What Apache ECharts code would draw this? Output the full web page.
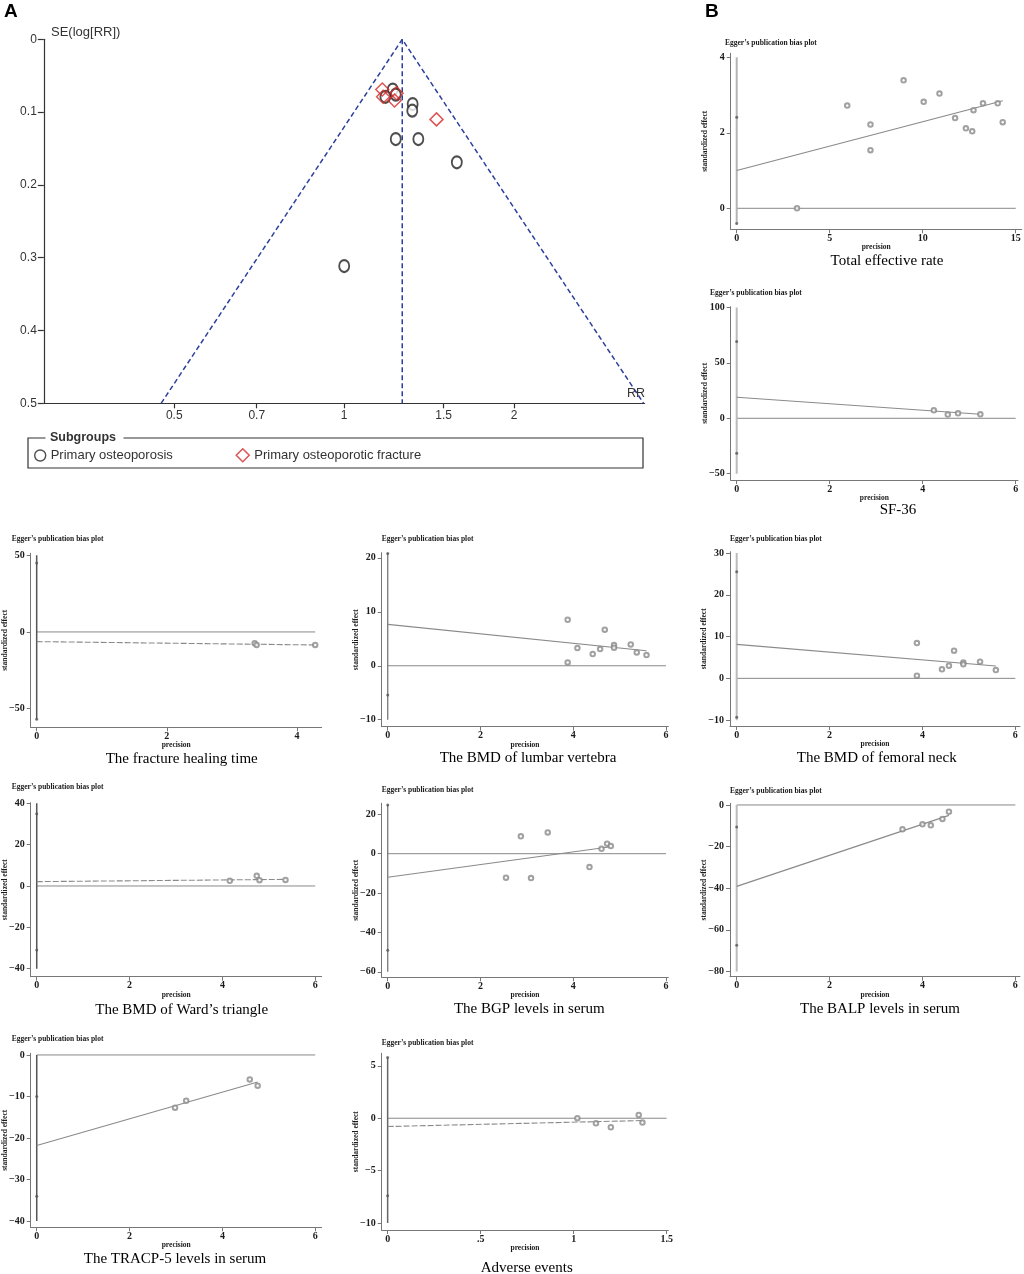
<!DOCTYPE html>
<html><head><meta charset="utf-8">
<script src="https://cdn.jsdelivr.net/npm/echarts@6/dist/echarts.min.js"></script>
<style>html,body{margin:0;padding:0;background:#fff}#c{width:1024px;height:1274px}</style>
</head><body><div id="c"></div>
<script>
// ================= DATA =================
// Panel A: funnel plot
const osteoporosisRR = [1.219, 1.234, 1.183, 1.322, 1.320, 1.234, 1.353, 1.583, 1.000];
const osteoporosisSE = [0.069, 0.076, 0.079, 0.089, 0.098, 0.137, 0.137, 0.169, 0.3115];
const fractureRR = [1.168, 1.172, 1.228, 1.238, 1.457];
const fractureSE = [0.069, 0.079, 0.084, 0.074, 0.110];
const pooledRR = 1.267;
const funnelBaseRR = [0.474, 3.39];
const funnelMaxSE = 0.5;
const funnelXTicks = [0.5, 0.7, 1, 1.5, 2];
const funnelYTicks = [0, 0.1, 0.2, 0.3, 0.4, 0.5];

// Panel B: Egger plots
const totalPrecision = [3.24, 5.94, 7.19, 7.19, 8.97, 10.05, 10.90, 11.74, 12.32, 12.66, 12.73, 13.24, 14.03, 14.30];
const totalEffect    = [0.00, 2.72, 2.22, 1.54, 3.39, 2.82, 3.04, 2.39, 2.12, 2.04, 2.60, 2.78, 2.78, 2.28];
const totalFitX = [0, 14.3], totalFitY = [1.0, 2.85];
const totalCI = [-0.40, 2.41], totalRefLine = [-0.4, 4], totalZeroEnd = 15;
const totalXTicks = [0, 5, 10, 15], totalYTicks = [0, 2, 4];

const sf36Precision = [4.24, 4.54, 4.76, 5.24];
const sf36Effect    = [7.2, 3.3, 4.5, 3.6];
const sf36FitX = [0, 5.24], sf36FitY = [19.0, 3.6];
const sf36CI = [-31.6, 69.3], sf36RefLine = [-50, 100], sf36ZeroEnd = 6;
const sf36XTicks = [0, 2, 4, 6], sf36YTicks = [-50, 0, 50, 100];

const healingPrecision = [3.35, 3.38, 4.28];
const healingEffect    = [-7.4, -8.5, -8.5];
const healingFitX = [0, 4.28], healingFitY = [-6.3, -8.5];
const healingCI = [-57, 45], healingRefLine = [-57, 50], healingZeroEnd = 4.28;
const healingXTicks = [0, 2, 4], healingYTicks = [-50, 0, 50];

const lumbarPrecision = [3.88, 3.88, 4.09, 4.42, 4.58, 4.68, 4.88, 4.88, 5.24, 5.37, 5.58];
const lumbarEffect    = [8.53, 0.62, 3.28, 2.16, 3.09, 6.68, 3.83, 3.34, 3.96, 2.47, 1.98];
const lumbarFitX = [0, 5.58], lumbarFitY = [7.67, 2.78];
const lumbarCI = [-5.4, 20.8], lumbarRefLine = [-10, 20.9], lumbarZeroEnd = 6;
const lumbarXTicks = [0, 2, 4, 6], lumbarYTicks = [-10, 0, 10, 20];

const femoralPrecision = [3.88, 3.88, 4.42, 4.57, 4.68, 4.88, 4.88, 5.24, 5.58];
const femoralEffect    = [8.45, 0.64, 2.15, 3.03, 6.61, 3.82, 3.35, 3.98, 1.99];
const femoralFitX = [0, 5.58], femoralFitY = [8.13, 2.95];
const femoralCI = [-9.3, 25.5], femoralRefLine = [-10, 30], femoralZeroEnd = 6;
const femoralXTicks = [0, 2, 4, 6], femoralYTicks = [-10, 0, 10, 20, 30];

const wardPrecision = [4.16, 4.74, 4.80, 5.36];
const wardEffect    = [2.5, 4.9, 2.8, 2.9];
const wardFitX = [0, 5.36], wardFitY = [2.1, 3.2];
const wardCI = [-31, 35], wardRefLine = [-40, 40], wardZeroEnd = 6;
const wardXTicks = [0, 2, 4, 6], wardYTicks = [-40, -20, 0, 20, 40];

const bgpPrecision = [2.55, 2.87, 3.09, 3.45, 4.35, 4.61, 4.73, 4.81];
const bgpEffect    = [-12.2, 8.8, -12.4, 10.8, -6.8, 2.5, 5.1, 3.9];
const bgpFitX = [0, 4.81], bgpFitY = [-12.0, 3.56];
const bgpCI = [-49, 24.7], bgpRefLine = [-60, 25], bgpZeroEnd = 6;
const bgpXTicks = [0, 2, 4, 6], bgpYTicks = [-60, -40, -20, 0, 20];

const balpPrecision = [3.57, 4.00, 4.18, 4.43, 4.57];
const balpEffect    = [-11.7, -9.3, -9.8, -6.7, -3.2];
const balpFitX = [0, 4.57], balpFitY = [-39.1, -5.0];
const balpCI = [-67.4, -10.6], balpRefLine = [-80, 0], balpZeroEnd = 6;
const balpXTicks = [0, 2, 4, 6], balpYTicks = [-80, -60, -40, -20, 0];

const tracpPrecision = [2.98, 3.22, 4.59, 4.76];
const tracpEffect    = [-12.7, -11.0, -5.9, -7.4];
const tracpFitX = [0, 4.76], tracpFitY = [-21.8, -6.5];
const tracpCI = [-34, -10], tracpRefLine = [-40, 0], tracpZeroEnd = 6;
const tracpXTicks = [0, 2, 4, 6], tracpYTicks = [-40, -30, -20, -10, 0];

const adversePrecision = [1.02, 1.12, 1.20, 1.35, 1.37];
const adverseEffect    = [0.00, -0.48, -0.86, 0.32, -0.41];
const adverseFitX = [0, 1.37], adverseFitY = [-0.79, -0.22];
const adverseCI = [-7.4, 5.8], adverseRefLine = [-10, 5.8], adverseZeroEnd = 1.5;
const adverseXTicks = [0, 0.5, 1, 1.5], adverseYTicks = [-10, -5, 0, 5];

// ================= FONTS =================
function hasFont(name){
  const c = document.createElement('canvas').getContext('2d');
  const s = 'abcdefghijklmnopqrstuvwxyz0123456789ABCDEF';
  c.font = '20px monospace'; const w0 = c.measureText(s).width;
  c.font = "20px '" + name + "', monospace"; const w1 = c.measureText(s).width;
  return Math.abs(w0 - w1) > 0.5;
}
const NARROW = hasFont('Liberation Sans Narrow');
const FF = NARROW ? "'Liberation Sans Narrow', 'Liberation Sans', sans-serif" : "'Liberation Sans', Arial, sans-serif";
const FZ = NARROW ? {tick:14, legend:15.5, sub:15.5, se:15.5, rr:15} : {tick:12, legend:13, sub:12.5, se:13, rr:12.5};
const SERIF = "'Liberation Serif', 'DejaVu Serif', serif";

// ================= PANELS =================
const panels = [
  {subtitle:'Total effective rate', prec:totalPrecision, eff:totalEffect, fitX:totalFitX, fitY:totalFitY, ci:totalCI, ref:totalRefLine, zeroEnd:totalZeroEnd, xTicks:totalXTicks, yTicks:totalYTicks, dashed:false,
   L:{left:730.7, top:53.3, width:291, height:176, xMin:-0.323, xMax:15.32, yMin:-0.556, yMax:4.106, title:[725,43], sub:[887,261], refColor:'#b4b4b4', refW:2}},
  {subtitle:'SF-36', prec:sf36Precision, eff:sf36Effect, fitX:sf36FitX, fitY:sf36FitY, ci:sf36CI, ref:sf36RefLine, zeroEnd:sf36ZeroEnd, xTicks:sf36XTicks, yTicks:sf36YTicks, dashed:false,
   L:{left:730.7, top:306.7, width:287.3, height:173.3, xMin:-0.129, xMax:6.05, yMin:-55.7, yMax:100.7, title:[710,293.3], sub:[898,510], refColor:'#bbbbbb', refW:2}},
  {subtitle:'The fracture healing time', prec:healingPrecision, eff:healingEffect, fitX:healingFitX, fitY:healingFitY, ci:healingCI, ref:healingRefLine, zeroEnd:healingZeroEnd, xTicks:healingXTicks, yTicks:healingYTicks, dashed:true,
   L:{left:30.7, top:553.3, width:291, height:174, xMin:-0.092, xMax:4.38, yMin:-62.2, yMax:51.3, title:[11.7,539.3], sub:[181.7,759], refColor:'#555555', refW:1.5}},
  {subtitle:'The BMD of lumbar vertebra', prec:lumbarPrecision, eff:lumbarEffect, fitX:lumbarFitX, fitY:lumbarFitY, ci:lumbarCI, ref:lumbarRefLine, zeroEnd:lumbarZeroEnd, xTicks:lumbarXTicks, yTicks:lumbarYTicks, dashed:false,
   L:{left:381.7, top:552.7, width:286.6, height:174, xMin:-0.13, xMax:6.05, yMin:-11.3, yMax:20.96, title:[381.7,539.3], sub:[528,758], refColor:'#777777', refW:1.3}},
  {subtitle:'The BMD of femoral neck', prec:femoralPrecision, eff:femoralEffect, fitX:femoralFitX, fitY:femoralFitY, ci:femoralCI, ref:femoralRefLine, zeroEnd:femoralZeroEnd, xTicks:femoralXTicks, yTicks:femoralYTicks, dashed:false,
   L:{left:730, top:551.7, width:290, height:174.3, xMin:-0.144, xMax:6.1, yMin:-11.4, yMax:30.3, title:[730,539.3], sub:[876.7,758.3], refColor:'#bbbbbb', refW:2}},
  {subtitle:'The BMD of Ward\u2019s triangle', prec:wardPrecision, eff:wardEffect, fitX:wardFitX, fitY:wardFitY, ci:wardCI, ref:wardRefLine, zeroEnd:wardZeroEnd, xTicks:wardXTicks, yTicks:wardYTicks, dashed:true,
   L:{left:30.7, top:802.7, width:291, height:174, xMin:-0.13, xMax:6.14, yMin:-43.9, yMax:40.3, title:[11.7,786.7], sub:[181.7,1010], refColor:'#555555', refW:1.5}},
  {subtitle:'The BGP levels in serum', prec:bgpPrecision, eff:bgpEffect, fitX:bgpFitX, fitY:bgpFitY, ci:bgpCI, ref:bgpRefLine, zeroEnd:bgpZeroEnd, xTicks:bgpXTicks, yTicks:bgpYTicks, dashed:false,
   L:{left:381.7, top:803.3, width:286.6, height:174, xMin:-0.13, xMax:6.05, yMin:-62.8, yMax:25.6, title:[381.7,790], sub:[529.3,1009.3], refColor:'#777777', refW:1.3}},
  {subtitle:'The BALP levels in serum', prec:balpPrecision, eff:balpEffect, fitX:balpFitX, fitY:balpFitY, ci:balpCI, ref:balpRefLine, zeroEnd:balpZeroEnd, xTicks:balpXTicks, yTicks:balpYTicks, dashed:false,
   L:{left:730, top:803.3, width:290, height:173.4, xMin:-0.144, xMax:6.1, yMin:-82.5, yMax:0.8, title:[730,790.7], sub:[880,1009.3], refColor:'#bbbbbb', refW:2}},
  {subtitle:'The TRACP-5 levels in serum', prec:tracpPrecision, eff:tracpEffect, fitX:tracpFitX, fitY:tracpFitY, ci:tracpCI, ref:tracpRefLine, zeroEnd:tracpZeroEnd, xTicks:tracpXTicks, yTicks:tracpYTicks, dashed:false,
   L:{left:30.7, top:1053.3, width:291, height:174, xMin:-0.13, xMax:6.14, yMin:-41.5, yMax:0.4, title:[11.7,1039.3], sub:[175,1259.3], refColor:'#555555', refW:1.5}},
  {subtitle:'Adverse events', prec:adversePrecision, eff:adverseEffect, fitX:adverseFitX, fitY:adverseFitY, ci:adverseCI, ref:adverseRefLine, zeroEnd:adverseZeroEnd, xTicks:adverseXTicks, yTicks:adverseYTicks, dashed:true,
   L:{left:381.7, top:1053.3, width:286.6, height:176.7, xMin:-0.032, xMax:1.509, yMin:-10.67, yMax:6.2, title:[381.7,1043.3], sub:[526.7,1268], refColor:'#666666', refW:1.5}}
];

function stataNum(v){
  const a = Math.abs(v);
  let s = String(+a.toFixed(3));
  if (a > 0 && a < 1) s = s.replace(/^0/, '');
  return (v < 0 ? '\u2212' : '') + s;
}
function txt(text, x, y, font, align, fill, rot){
  return {type:'text', x:x, y:y, rotation:rot || 0, silent:true, z:100,
    style:{text:text, font:font, fill:fill || '#111', align:align || 'left', verticalAlign:'middle', textAlign:align || 'left', textVerticalAlign:'middle'}};
}

const grids = [], xAxes = [], yAxes = [], series = [], graphics = [];

// ---------- Funnel plot (panel A) ----------
grids.push({left:43.8, top:39.3, width:600.8, height:364, containLabel:false, outerBoundsMode:'none'});
const lnTicks = funnelXTicks.map(Math.log);
xAxes.push({type:'value', gridIndex:0, min:-1.225, max:1.225,
  axisLine:{show:true, onZero:false, lineStyle:{color:'#333', width:1.2}},
  axisTick:{show:true, customValues:lnTicks, length:5, lineStyle:{color:'#333', width:1.2}},
  axisLabel:{show:true, customValues:lnTicks, formatter:v => String(+Math.exp(v).toFixed(2)), margin:6, color:'#333', fontFamily:FF, fontSize:FZ.tick},
  splitLine:{show:false}});
yAxes.push({type:'value', gridIndex:0, inverse:true, min:0, max:funnelMaxSE,
  axisLine:{show:true, onZero:false, lineStyle:{color:'#333', width:1.2}},
  axisTick:{show:true, customValues:funnelYTicks, length:6, lineStyle:{color:'#333', width:1.2}},
  axisLabel:{show:true, customValues:funnelYTicks, formatter:v => v === 0 ? '0' : v.toFixed(1), margin:7, color:'#333', fontFamily:FF, fontSize:FZ.tick},
  splitLine:{show:false}});
const lnP = Math.log(pooledRR);
series.push({type:'line', xAxisIndex:0, yAxisIndex:0, silent:true, symbol:'none', z:2,
  data:[[Math.log(funnelBaseRR[0]), funnelMaxSE], [lnP, 0], [Math.log(funnelBaseRR[1]), funnelMaxSE]],
  lineStyle:{color:'#2b3f9e', width:1.5, type:[5,3]}});
series.push({type:'line', xAxisIndex:0, yAxisIndex:0, silent:true, symbol:'none', z:2,
  data:[[lnP, 0], [lnP, funnelMaxSE]],
  lineStyle:{color:'#2b3f9e', width:1.5, type:[5,3]}});
series.push({type:'scatter', name:'Primary osteoporosis', xAxisIndex:0, yAxisIndex:0, z:5,
  data:osteoporosisRR.map((r, j) => [Math.log(r), osteoporosisSE[j]]),
  symbol:'emptyCircle', symbolSize:[10,12], itemStyle:{color:'#222', borderColor:'#222', borderWidth:1.4}});
series.push({type:'scatter', name:'Primary osteoporotic fracture', xAxisIndex:0, yAxisIndex:0, z:6,
  data:fractureRR.map((r, j) => [Math.log(r), fractureSE[j]]),
  symbol:'diamond', symbolSize:13, itemStyle:{color:'rgba(255,255,255,0)', borderColor:'#d42a2a', borderWidth:1.5}});

graphics.push(txt('A', 4, 12, "bold 19px 'Liberation Sans', Arial, sans-serif", 'left', '#000'));
graphics.push(txt('B', 705, 12, "bold 19px 'Liberation Sans', Arial, sans-serif", 'left', '#000'));
graphics.push(txt('SE(log[RR])', 51, 32, FZ.se + 'px ' + FF, 'left', '#333'));
graphics.push(txt('RR', 645, 394, FZ.rr + 'px ' + FF, 'right', '#333'));
graphics.push({type:'polyline', silent:true, z:50,
  shape:{points:[[45.5,438],[28,438],[28,468],[643,468],[643,438],[123.5,438]]},
  style:{stroke:'#333', lineWidth:1.2, fill:null}});
graphics.push(txt('Subgroups', 50, 438, 'bold ' + FZ.sub + 'px ' + FF, 'left', '#333'));

// ---------- Egger plots (panel B) ----------
const AX = '#777';
const tickFont = {fontFamily:SERIF, fontSize:10, fontWeight:'bold', color:'#1a1a1a'};
const smallFont = {fontFamily:SERIF, fontSize:7.5, fontWeight:'bold', color:'#1a1a1a'};
panels.forEach((p, k) => {
  const i = k + 1, L = p.L;
  grids.push({left:L.left, top:L.top, width:L.width, height:L.height, containLabel:false, outerBoundsMode:'none'});
  xAxes.push({type:'value', gridIndex:i, min:L.xMin, max:L.xMax,
    name:'precision', nameLocation:'middle', nameGap:14, nameMoveOverlap:false, nameTextStyle:smallFont,
    axisLine:{show:true, onZero:false, lineStyle:{color:AX, width:1}},
    axisTick:{show:true, customValues:p.xTicks, length:4, lineStyle:{color:AX, width:1}},
    axisLabel:Object.assign({show:true, customValues:p.xTicks, formatter:stataNum, margin:4}, tickFont),
    splitLine:{show:false}});
  yAxes.push({type:'value', gridIndex:i, min:L.yMin, max:L.yMax,
    name:'standardized effect', nameLocation:'middle', nameRotate:90, nameGap:21.5, nameMoveOverlap:false, nameTextStyle:smallFont,
    axisLine:{show:true, onZero:false, lineStyle:{color:AX, width:1}},
    axisTick:{show:true, customValues:p.yTicks, length:4, lineStyle:{color:AX, width:1}},
    axisLabel:Object.assign({show:true, customValues:p.yTicks, formatter:stataNum, margin:6}, tickFont),
    splitLine:{show:false}});
  const ax = {xAxisIndex:i, yAxisIndex:i, silent:true};
  series.push(Object.assign({type:'line', symbol:'none', z:1, data:[[0,0],[p.zeroEnd,0]],
    lineStyle:{color:'#888', width:1}}, ax));
  series.push(Object.assign({type:'line', symbol:'none', z:2, data:[[0,p.ref[0]],[0,p.ref[1]]],
    lineStyle:{color:L.refColor, width:L.refW}}, ax));
  series.push(Object.assign({type:'scatter', z:3, data:[[0,p.ci[0]],[0,p.ci[1]]],
    symbol:'circle', symbolSize:3, itemStyle:{color:'#555'}}, ax));
  series.push(Object.assign({type:'line', symbol:'none', z:3, data:[[p.fitX[0],p.fitY[0]],[p.fitX[1],p.fitY[1]]],
    lineStyle:{color:'#8a8a8a', width:1.1, type:p.dashed ? [6,2] : 'solid'}}, ax));
  series.push(Object.assign({type:'scatter', z:4, data:p.prec.map((x, j) => [x, p.eff[j]]),
    symbol:'emptyCircle', symbolSize:4.5, itemStyle:{color:'#8a8a8a', borderColor:'#8a8a8a', borderWidth:1}}, ax));
  graphics.push(txt('Egger\u2019s publication bias plot', L.title[0], L.title[1], 'bold 7.5px ' + SERIF, 'left', '#1a1a1a'));
  graphics.push(txt(p.subtitle, L.sub[0], L.sub[1], '15px ' + SERIF, 'center', '#000'));
});

const legendText = {fontFamily:FF, fontSize:FZ.legend, color:'#333'};
const option = {
  animation:false,
  backgroundColor:'#fff',
  grid:grids, xAxis:xAxes, yAxis:yAxes, series:series,
  legend:[
    {data:[{name:'Primary osteoporosis', icon:'circle', itemStyle:{color:'#fff', borderColor:'#222', borderWidth:1.4}}],
     left:34, top:449, padding:0, itemWidth:11, itemHeight:13, itemGap:0, selectedMode:false, textStyle:legendText},
    {data:[{name:'Primary osteoporotic fracture', icon:'diamond', itemStyle:{color:'#fff', borderColor:'#d42a2a', borderWidth:1.5}}],
     left:235.5, top:448, padding:0, itemWidth:13, itemHeight:13, itemGap:0, selectedMode:false, textStyle:legendText}
  ],
  graphic:{elements:graphics}
};
const chart = echarts.init(document.getElementById('c'), null, {renderer:'canvas', width:1024, height:1274});
chart.setOption(option);
</script>
</body></html>
